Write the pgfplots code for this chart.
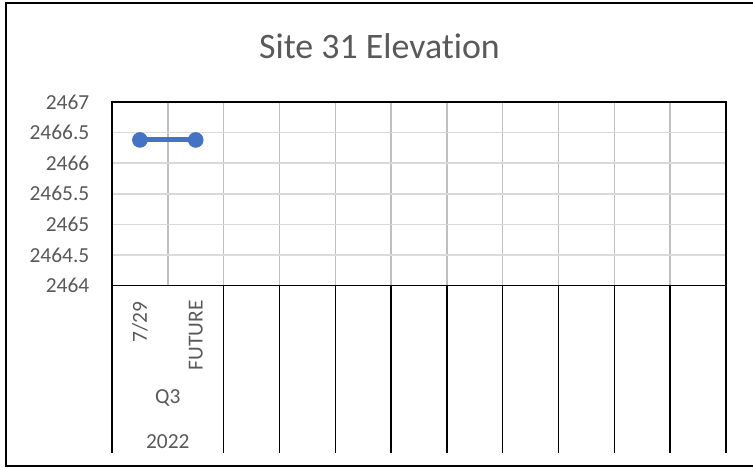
\documentclass[border=0pt]{standalone}
\usepackage{fontspec}
\setmainfont{Carlito}[Ligatures=NoCommon]
\usepackage{pgfplots}
\pgfplotsset{compat=1.18}
\usetikzlibrary{calc}
\definecolor{txtgray}{HTML}{595959}
\definecolor{hgrid}{HTML}{D9D9D9}
\definecolor{vgrid}{HTML}{BFBFBF}
\definecolor{xlblue}{HTML}{4472C4}
\newcommand\tickfont{\fontsize{21.5}{25}\selectfont}
\begin{document}
\begin{tikzpicture}[x=1bp,y=1bp]
\useasboundingbox (0,0) rectangle (753,468);
% chart frame
\draw[line width=2bp, black] (753,465) -- (6,465) -- (6,2) -- (753,2);
\node[anchor=base, text=txtgray, font=\fontsize{36}{40}\selectfont, inner sep=0pt] at (379.5,409) {Site 31 Elevation};
\begin{axis}[
  at={(112bp,182.3bp)}, anchor=south west,
  scale only axis, width=614bp, height=183.7bp,
  xmin=0.5, xmax=11.5, ymin=2464, ymax=2467,
  xtick={1.5,2.5,...,10.5},
  xticklabels={,,,,,,,,,,},
  ytick={2464,2464.5,...,2467},
  yticklabel style={anchor=east, inner sep=0pt, xshift=-22.5bp, text=txtgray, font=\tickfont},
  /pgf/number format/.cd, fixed, precision=1, 1000 sep={}, assume math mode=true,
  /pgfplots/.cd,
  major tick length=0pt,
  xmajorgrids, ymajorgrids,
  x grid style={vgrid, line width=1.5bp},
  y grid style={hgrid, line width=1.5bp},
  axis line style={black, line width=1.5bp},
  clip=false,
]
\addplot[xlblue, line width=5bp, mark=*, mark size=7.3bp, mark options={solid, fill=xlblue, line width=1bp}]
  coordinates {(1,2466.38) (2,2466.38)};
% category separators below the axis
\draw[black, line width=1.5bp]
  (axis cs:0.5,2464) -- ++(0bp,-167.3bp)
  (axis cs:2.5,2464) -- ++(0bp,-167.3bp)
  (axis cs:3.5,2464) -- ++(0bp,-167.3bp)
  (axis cs:4.5,2464) -- ++(0bp,-167.3bp)
  (axis cs:5.5,2464) -- ++(0bp,-167.3bp)
  (axis cs:6.5,2464) -- ++(0bp,-167.3bp)
  (axis cs:7.5,2464) -- ++(0bp,-167.3bp)
  (axis cs:8.5,2464) -- ++(0bp,-167.3bp)
  (axis cs:9.5,2464) -- ++(0bp,-167.3bp)
  (axis cs:10.5,2464) -- ++(0bp,-167.3bp)
  (axis cs:11.5,2464) -- ++(0bp,-167.3bp);
\node[rotate=90, anchor=east, inner sep=0pt, text=txtgray, font=\tickfont] at ($(axis cs:1,2464)+(0bp,-16bp)$) {7/29};
\node[rotate=90, anchor=east, inner sep=0pt, text=txtgray, font=\tickfont] at ($(axis cs:2,2464)+(0bp,-14.3bp)$) {FUTURE};
\node[text=txtgray, font=\tickfont, inner sep=0pt] at ($(axis cs:1.5,2464)+(0bp,-112.3bp)$) {Q3};
\node[text=txtgray, font=\tickfont, inner sep=0pt] at ($(axis cs:1.5,2464)+(0bp,-156.3bp)$) {2022};
\end{axis}
\end{tikzpicture}
\end{document}
